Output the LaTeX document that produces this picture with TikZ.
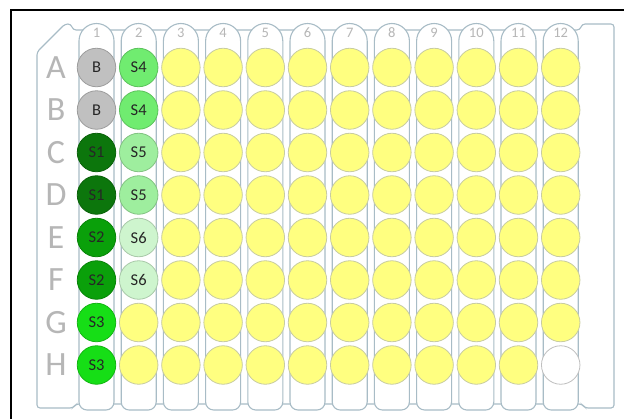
\documentclass[tikz,border=0pt]{standalone}
\usepackage{fontspec}
\setmainfont{Carlito}
\usetikzlibrary{positioning}
\definecolor{plateline}{RGB}{168,188,198}
\definecolor{labelgray}{RGB}{182,182,182}
\definecolor{wellyellow}{RGB}{255,255,128}
\definecolor{wellrim}{RGB}{200,204,160}
\definecolor{blankgray}{RGB}{192,192,192}
\definecolor{sone}{RGB}{12,118,12}
\definecolor{stwo}{RGB}{10,160,10}
\definecolor{sthree}{RGB}{22,222,22}
\definecolor{sfour}{RGB}{112,236,112}
\definecolor{sfive}{RGB}{158,238,158}
\definecolor{ssix}{RGB}{206,245,206}
\tikzset{
 well/.style={circle,minimum size=38.5pt,inner sep=0pt,draw=wellrim,line width=0.8pt,fill=wellyellow,text=black!85,font=\fontsize{16.5}{16.5}\selectfont},
 sample/.style={well,fill=#1,draw=#1!82!black},
 tube/.style={draw=plateline,line width=1.1pt,fill=white},
 rowlabel/.style={text=labelgray,inner sep=0pt,font=\fontsize{34}{34}\selectfont},
 collabel/.style={text=labelgray,inner sep=0pt,font=\fontsize{14.5}{14.5}\selectfont}}

\begin{document}
\begin{tikzpicture}[x=1pt,y=-1pt]
\useasboundingbox (0,0) rectangle (624,418);
\draw[line width=1.5pt] (11,425) -- (11,10) -- (630,10);
% plate body
\draw[tube,rounded corners=3pt] (37,52) -- (65,24) -- (71,24) -- (73,30) -- (580,30) -- (582,24) -- (614,24) -- (614,408) -- (585,408) -- (582,404) -- (76,404) -- (73,408) -- (37,408) -- cycle;
% column tubes and numbers
\foreach \c in {1,...,12}{
 \pgfmathsetmacro{\xc}{96.5+42.2*(\c-1)}
 \draw[tube] (\xc-17.5,41) arc[start angle=180,end angle=360,radius=17.5] [rounded corners=8pt] -- (\xc+17.5,410) -- (\xc-17.5,410) [sharp corners] -- cycle;
 \node[collabel] (col\c) at (\xc,33) {\c};
}
% row letters
\foreach \r/\rl in {1/A,2/B,3/C,4/D,5/E,6/F,7/G,8/H}
 \node[rowlabel] (row\rl) at (56,{67.5+42.5*(\r-1)}) {\rl};
% empty wells
\foreach \c in {3,...,11}
 \foreach \rl in {A,...,H}
  \node[well] (w-\rl-\c) at (col\c |- row\rl) {};
\foreach \rl in {A,...,G} \node[well] (w-\rl-12) at (col12 |- row\rl) {};
\foreach \rl in {G,H} \node[well] (w-\rl-2) at (col2 |- row\rl) {};
\node[well,fill=white,draw=black!25] (w-H-12) at (col12 |- rowH) {};
% blanks and samples
\foreach \rl/\c/\shade/\txt in {A/1/blankgray/B,B/1/blankgray/B,C/1/sone/S1,D/1/sone/S1,E/1/stwo/S2,F/1/stwo/S2,G/1/sthree/S3,H/1/sthree/S3,A/2/sfour/S4,B/2/sfour/S4,C/2/sfive/S5,D/2/sfive/S5,E/2/ssix/S6,F/2/ssix/S6}
 \node[sample=\shade] (w-\rl-\c) at (col\c |- row\rl) {\txt};
\end{tikzpicture}
\end{document}
